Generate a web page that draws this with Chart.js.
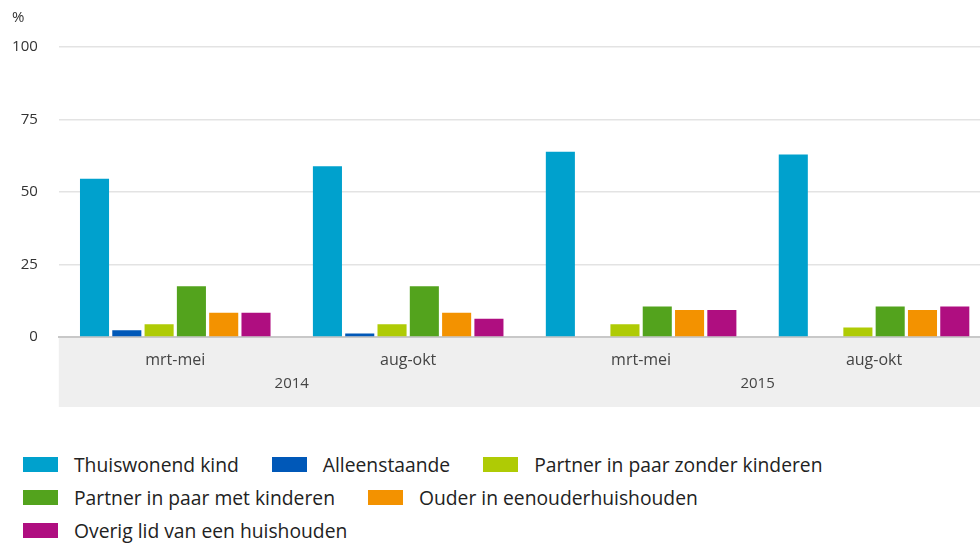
<!DOCTYPE html>
<html>
<head>
<meta charset="utf-8">
<script src="https://cdn.jsdelivr.net/npm/chart.js@4.4.1/dist/chart.umd.min.js"></script>
<style>
  html, body { margin: 0; padding: 0; background: #fff; overflow: hidden; width: 980px; height: 543px; }
  #wrap { position: absolute; left: 0; top: 0; width: 992px; height: 420px; }
  #legend { position: absolute; left: 23px; top: 448px; width: 950px; display: flex; flex-wrap: wrap;
            font-family: "Open Sans", sans-serif; font-size: 19.3px; color: #222; }
  .item { display: flex; align-items: center; height: 33px; margin-right: 33px; white-space: nowrap; }
  .box { width: 35px; height: 15px; margin-right: 16px; }
</style>
</head>
<body>
<div id="wrap"><canvas id="chart"></canvas></div>
<div id="legend"></div>
<script>
// data
const periods = ['mrt-mei', 'aug-okt', 'mrt-mei', 'aug-okt'];
const years = ['2014', '2015'];
const seriesNames = [
  'Thuiswonend kind', 'Alleenstaande', 'Partner in paar zonder kinderen',
  'Partner in paar met kinderen', 'Ouder in eenouderhuishouden', 'Overig lid van een huishouden'
];
const thuiswonend = [54.6, 58.9, 63.9, 62.9];
const alleenstaande = [2.3, 1.2, null, null];
const zonderKinderen = [4.4, 4.4, 4.4, 3.3];
const metKinderen = [17.5, 17.5, 10.5, 10.5];
const ouder = [8.4, 8.4, 9.3, 9.3];
const overig = [8.4, 6.3, 9.3, 10.5];
const yTicks = [0, 25, 50, 75, 100];
const colors = ['#00a1cd', '#0058b8', '#afcb05', '#53a31d', '#f39200', '#af0e80'];

const seriesValues = [thuiswonend, alleenstaande, zonderKinderen, metKinderen, ouder, overig];

// grey band under the bars + the "%" unit label
const bandPlugin = {
  id: 'band',
  beforeDraw(chart) {
    const { ctx, chartArea } = chart;
    ctx.save();
    ctx.fillStyle = '#efefef';
    ctx.fillRect(chartArea.left, chartArea.bottom, chartArea.right - chartArea.left, 70);
    ctx.restore();
  },
  afterDraw(chart) {
    const ctx = chart.ctx;
    ctx.save();
    ctx.fillStyle = '#333';
    ctx.font = '15px "Open Sans"';
    ctx.textBaseline = 'middle';
    ctx.fillText('%', 12, 18);
    ctx.restore();
  }
};

const chart = new Chart(document.getElementById('chart'), {
  type: 'bar',
  data: {
    labels: periods,
    datasets: seriesNames.map((name, i) => ({
      label: name,
      data: seriesValues[i],
      backgroundColor: colors[i],
      borderWidth: 0,
      xAxisID: 'x'
    }))
  },
  options: {
    responsive: true,
    maintainAspectRatio: false,
    animation: false,
    categoryPercentage: 0.832,
    barPercentage: 0.9,
    layout: { padding: { top: 47, right: 1.5, left: 0, bottom: 13 } },
    plugins: { legend: { display: false }, tooltip: { enabled: false } },
    scales: {
      x: {
        position: 'bottom',
        grid: { display: false, drawTicks: false },
        border: { display: true, color: '#c8c8c8', width: 2 },
        ticks: { color: '#444', font: { family: 'Open Sans', size: 16 }, padding: 14, maxRotation: 0 },
        afterFit(s) { s.height = 38; }
      },
      x2: {
        type: 'category',
        labels: years,
        position: 'bottom',
        offset: true,
        grid: { display: false, drawTicks: false },
        border: { display: false },
        ticks: { color: '#444', font: { family: 'Open Sans', size: 15 }, padding: 0, maxRotation: 0 },
        afterFit(s) { s.height = 32; }
      },
      y: {
        min: 0,
        max: 100,
        afterBuildTicks(s) { s.ticks = yTicks.map(v => ({ value: v })); },
        grid: {
          drawTicks: false,
          color: c => (c.tick && c.tick.value === 0) ? 'rgba(0,0,0,0)' : '#e3e3e3',
          lineWidth: 1.5
        },
        border: { display: false },
        ticks: { color: '#333', font: { family: 'Open Sans', size: 15 }, padding: 21 },
        afterFit(s) { s.width = 58.8; }
      }
    }
  },
  plugins: [bandPlugin]
});

// legend built from the datasets
const legend = document.getElementById('legend');
chart.data.datasets.forEach(ds => {
  const item = document.createElement('div');
  item.className = 'item';
  const box = document.createElement('span');
  box.className = 'box';
  box.style.background = ds.backgroundColor;
  const txt = document.createElement('span');
  txt.textContent = ds.label;
  item.appendChild(box);
  item.appendChild(txt);
  legend.appendChild(item);
});
</script>
</body>
</html>
